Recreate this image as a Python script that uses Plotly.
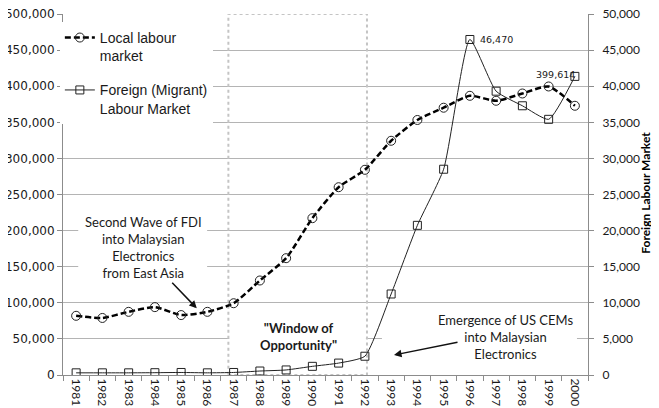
import plotly.graph_objects as go

# ---- data ----
years = [str(y) for y in range(1981, 2001)]
local_labour = [82000, 79000, 87500, 94000, 83000, 87500, 99400, 130900, 161800, 217200,
                260100, 284200, 324400, 353200, 370200, 386700, 379800, 389900, 399614, 372900]
foreign_labour = [300, 300, 300, 320, 350, 300, 350, 550, 700, 1200,
                  1650, 2600, 11220, 20730, 28500, 46470, 39310, 37290, 35410, 41360]
left_ticks = list(range(0, 500001, 50000))
right_ticks = list(range(0, 50001, 5000))

TXT = "#1a1a1a"
GRID = "#b4b4b4"
AXIS = "#8c8c8c"

fig = go.Figure()
fig.add_trace(go.Scatter(
    x=years, y=local_labour, name="Local labour<br>market",
    mode="lines+markers", legendgroup="a",
    line=dict(color="black", width=2.5, dash="6px,3px", shape="spline", smoothing=0.6),
    marker=dict(symbol="circle-open", size=9, color="#222", line=dict(width=1, color="#222")),
))
fig.add_trace(go.Scatter(
    x=years, y=foreign_labour, name="Foreign (Migrant)<br>Labour Market",
    mode="lines+markers", yaxis="y2", legendgroup="b",
    line=dict(color="#222", width=1, shape="spline", smoothing=0.5),
    marker=dict(symbol="square-open", size=8, color="#222", line=dict(width=1, color="#222")),
))

# white boxes behind text (hide gridlines, not traces)
box = dict(type="rect", xref="x", yref="y", fillcolor="white", line=dict(width=0), layer="between")
shapes = [
    dict(box, x0=0.08, x1=4.99, y0=117700, y1=235500),
    dict(box, x0=5.83, x1=11.04, y0=26300, y1=78900),
    dict(box, x0=11.65, x1=19.08, y0=18000, y1=90000),
    dict(type="rect", xref="x", yref="y", x0=5.8, x1=11.08, y0=0, y1=500000,
         line=dict(color="#c4c4c4", width=2, dash="dot"), layer="between"),
]

ann_font = dict(family="Lato", size=13, color=TXT)
centered = dict(xanchor="center", yanchor="middle", showarrow=False)
i96 = years.index("1996")
i99 = years.index("1999")
annotations = [
    dict(centered, text="Second Wave of FDI<br>into Malaysian<br>Electronics<br>from East Asia",
         xref="paper", yref="paper", x=0.154, y=0.352, font=ann_font),
    dict(centered, text="<b>\"Window of<br>Opportunity\"</b>",
         xref="paper", yref="paper", x=0.4477, y=0.108, font=ann_font),
    dict(centered, text="Emergence of US CEMs<br>into Malaysian<br>Electronics",
         xref="paper", yref="paper", x=0.8438, y=0.106, font=ann_font),
    dict(text="", xref="paper", yref="paper", x=0.2548, y=0.1848, ax=-26, ay=-27,
         showarrow=True, arrowhead=2, arrowsize=1, arrowwidth=1.5, arrowcolor="#111", standoff=0),
    dict(text="", xref="paper", yref="paper", x=0.6305, y=0.0554, ax=65, ay=-13,
         showarrow=True, arrowhead=2, arrowsize=1, arrowwidth=1.5, arrowcolor="#111", standoff=0),
    dict(text=f"{foreign_labour[i96]:,}", x=i96, y=foreign_labour[i96], xref="x", yref="y2",
         xanchor="left", yanchor="middle", xshift=8, showarrow=False,
         font=dict(family="DejaVu Sans", size=9.5, color=TXT)),
    dict(text=f"{local_labour[i99]:,}", x=i99, y=local_labour[i99], xref="x", yref="y",
         xanchor="center", yanchor="middle", xshift=7, yshift=12, showarrow=False,
         font=dict(family="DejaVu Sans", size=9.5, color=TXT)),
    dict(centered, text="<b>Foreign Labour Market</b>", textangle=-90, xref="paper", yref="paper",
         x=1.108, y=0.504, font=dict(family="Lato", size=12, color="black")),
]

# the page body has an 8px margin, so the figure is drawn 8px smaller
fig.update_layout(
    width=651, height=400,
    margin=dict(l=55, r=71, t=6, b=33, autoexpand=False),
    paper_bgcolor="white", plot_bgcolor="white",
    showlegend=True,
    legend=dict(x=-0.006, y=0.978, xanchor="left", yanchor="top", bgcolor="white",
                font=dict(family="Liberation Sans", size=14, color=TXT),
                valign="top", traceorder="grouped", tracegroupgap=13, itemwidth=30),
    xaxis=dict(type="category", range=[-0.5, 19.5], showgrid=False, showline=True,
               linecolor=AXIS, linewidth=1, ticks="outside", tickson="boundaries",
               ticklen=5, tickcolor=AXIS, tickangle=90,
               tickfont=dict(family="Lato", size=12, color=TXT)),
    yaxis=dict(range=[0, 500000], tickvals=left_ticks, tickformat=",", showgrid=True,
               gridcolor=GRID, gridwidth=1, zeroline=False, showline=True, linecolor=AXIS,
               ticks="outside", ticklen=5, tickcolor=AXIS, ticklabeloverflow="allow",
               tickfont=dict(family="DejaVu Sans", size=12, color=TXT)),
    yaxis2=dict(range=[0, 50000], tickvals=right_ticks, tickformat=",", overlaying="y",
                side="right", showgrid=False, zeroline=False, showline=True, linecolor=AXIS,
                ticks="outside", ticklen=5, tickcolor=AXIS, ticklabelstandoff=6,
                ticklabeloverflow="allow",
                tickfont=dict(family="Lato", size=12, color=TXT)),
    shapes=shapes,
    annotations=annotations,
)

fig.write_html("out.html")
